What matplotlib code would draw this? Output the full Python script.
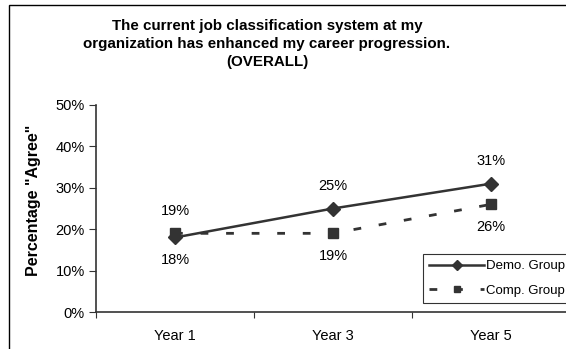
import matplotlib.pyplot as plt
from matplotlib.patches import Rectangle

# --- Survey results ---
years = ["Year 1", "Year 3", "Year 5"]
demo_group = [18, 25, 31]  # % agree
comp_group = [19, 19, 26]
demo_label_pos = ["below", "above", "above"]
comp_label_pos = ["above", "below", "below"]

plt.rcParams['font.family'] = ['Liberation Sans', 'DejaVu Sans']
line_color = "#333333"

W, H = 566, 349
fig = plt.figure(figsize=(W / 100, H / 100), dpi=100)

# --- Outer chart frame ---
fig.patches.append(Rectangle((9 / W, -0.1), 1.2, (H - 5) / H + 0.1, transform=fig.transFigure,
                             fill=False, edgecolor="black", linewidth=1.0))

# axes: y 0% at px 312, 50% at px 105; x from px 96 to ~570
ax = fig.add_axes([96 / W, (H - 312) / H, (570 - 96) / W, (312 - 105) / H])
x = list(range(len(years)))

ax.plot(x, demo_group, color=line_color, linewidth=1.8, marker="D", markersize=7.5,
        label="Demo. Group")
ax.plot(x, comp_group, color=line_color, linewidth=2.0, marker="s", markersize=7,
        dashes=(2.8, 6.4), label="Comp. Group")

# --- Data labels ---
for vals, positions in [(demo_group, demo_label_pos), (comp_group, comp_label_pos)]:
    for xi, v, pos in zip(x, vals, positions):
        off = 16 if pos == "above" else -16
        ax.annotate(f"{v}%", (xi, v), xytext=(0, off), textcoords="offset points",
                    ha="center", va="center", fontsize=10.5)

ax.set_xlim(-0.5, 2.5)
ax.set_ylim(0, 50)
ax.set_yticks(range(0, 51, 10))
ax.set_yticklabels([f"{t}%" for t in range(0, 51, 10)], fontsize=10.5)
ax.set_xticks([-0.5, 0.5, 1.5, 2.5])
ax.set_xticklabels([])
ax.set_xticks(x, minor=True)
ax.set_xticklabels(years, minor=True, fontsize=10.5)
ax.tick_params(axis="x", which="minor", length=0, pad=12)
ax.tick_params(axis="x", which="major", length=4, direction="out", color=line_color)
ax.tick_params(axis="y", length=5, direction="out", color=line_color, pad=3)

for side in ["top", "right"]:
    ax.spines[side].set_visible(False)
for side in ["left", "bottom"]:
    ax.spines[side].set_color(line_color)
    ax.spines[side].set_linewidth(1.2)

fig.text(34 / W, (H - 200) / H, 'Percentage "Agree"', rotation=90,
         ha="center", va="center", fontsize=11.5, fontweight="bold")

fig.text(267 / W, (H - 44) / H,
         "The current job classification system at my\n"
         "organization has enhanced my career progression.\n"
         "(OVERALL)",
         ha="center", va="center", fontsize=10.9, fontweight="bold", linespacing=1.38)

leg = ax.legend(loc="upper left", bbox_to_anchor=(423 / W, (H - 254) / H),
                bbox_transform=fig.transFigure, borderaxespad=0, fontsize=9.5,
                handlelength=4.2, handletextpad=0.1, frameon=True, fancybox=False,
                borderpad=0.45, labelspacing=0.95, markerscale=0.7)
leg.get_frame().set_edgecolor("black")
leg.get_frame().set_linewidth(0.8)

fig.savefig("out.png", dpi=100)
